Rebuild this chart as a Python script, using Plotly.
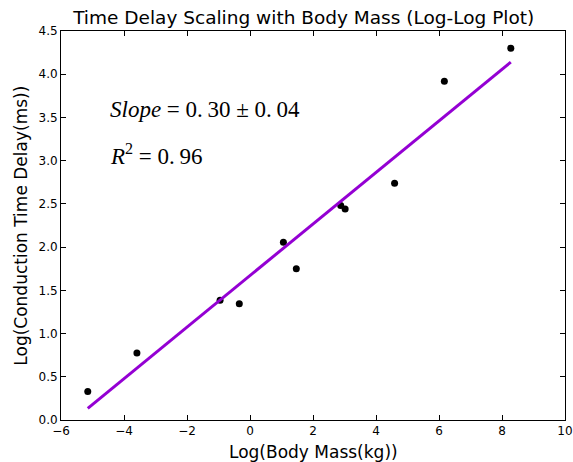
import plotly.graph_objects as go

log_mass = [-5.15, -3.59, -0.95, -0.34, 1.06, 1.47, 2.88, 3.02, 4.59, 6.17, 8.28]
log_delay = [0.33, 0.775, 1.385, 1.346, 2.056, 1.75, 2.48, 2.44, 2.74, 3.92, 4.30]
fit_x = [-5.15, 8.28]
fit_y = [0.135, 4.14]
x_ticks = [-6, -4, -2, 0, 2, 4, 6, 8, 10]
x_tick_labels = ["\u22126", "\u22124", "\u22122", "0", "2", "4", "6", "8", "10"]
y_ticks = [0.0, 0.5, 1.0, 1.5, 2.0, 2.5, 3.0, 3.5, 4.0, 4.5]

fig = go.Figure()
fig.add_trace(go.Scatter(x=log_mass, y=log_delay, mode="markers",
                         marker=dict(color="black", size=7), showlegend=False, hoverinfo="skip"))
fig.add_trace(go.Scatter(x=fit_x, y=fit_y, mode="lines",
                         line=dict(color="#9400D3", width=3), showlegend=False, hoverinfo="skip"))

axis_common = dict(showline=True, linecolor="black", linewidth=1, mirror="allticks",
                   ticks="inside", ticklen=5, tickcolor="black", showgrid=False,
                   zeroline=False, automargin=False, ticklabeloverflow="allow",
                   tickfont=dict(family="DejaVu Sans", size=12, color="black"))

fig.update_xaxes(range=[-6, 10], tickvals=x_ticks, ticktext=x_tick_labels, **axis_common)
fig.update_yaxes(range=[0, 4.5], tickvals=y_ticks, tickformat=".1f", **axis_common)

fig.add_annotation(x=-4.5, y=3.59, xref="x", yref="y", xanchor="left", yanchor="middle",
                   text="<i>Slope</i> = 0.&#8201;30 ± 0.&#8201;04", showarrow=False,
                   font=dict(family="Liberation Serif", size=23, color="black"))
fig.add_annotation(x=-4.5, y=3.07, xref="x", yref="y", xanchor="left", yanchor="middle",
                   text="<i>R</i><sup>2</sup> = 0.&#8201;96", showarrow=False,
                   font=dict(family="Liberation Serif", size=23, color="black"))

# axis titles
fig.add_annotation(x=0.5, y=-0.082, xref="paper", yref="paper", xanchor="center", yanchor="middle",
                   text="Log(Body Mass(kg))", showarrow=False,
                   font=dict(family="DejaVu Sans", size=17, color="black"))
fig.add_annotation(x=-0.081, y=0.5, xref="paper", yref="paper", xanchor="center", yanchor="middle",
                   text="Log(Conduction Time Delay(ms))", showarrow=False, textangle=-90,
                   font=dict(family="DejaVu Sans", size=17, color="black"))

fig.update_layout(
    width=573, height=462,
    margin=dict(l=61, r=8, t=31, b=42),
    paper_bgcolor="white", plot_bgcolor="white",
    hovermode=False,
    title=dict(text="Time Delay Scaling with Body Mass (Log-Log Plot)", x=0.53, xanchor="center",
               y=0.961, yanchor="middle", font=dict(family="DejaVu Sans", size=18.5, color="black")),
)

fig.write_html("out.html", config={"displayModeBar": False},
               post_script="document.body.style.margin='0';document.body.style.overflow='hidden';")
